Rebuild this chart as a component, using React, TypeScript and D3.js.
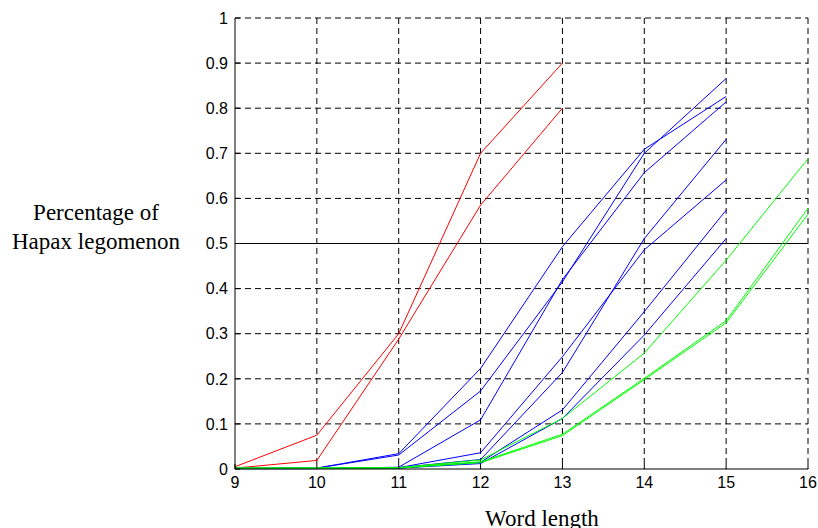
import * as d3 from 'd3';
import React from 'react';

// word length categories on the x axis
const wordLengths = [9, 10, 11, 12, 13, 14, 15, 16];
const yTicks = [0, 0.1, 0.2, 0.3, 0.4, 0.5, 0.6, 0.7, 0.8, 0.9, 1];
const yTickLabels = ['0', '0.1', '0.2', '0.3', '0.4', '0.5', '0.6', '0.7', '0.8', '0.9', '1'];

// red: lengths 9..13
const red1 = [0.005, 0.075, 0.3, 0.7, 0.9];
const red2 = [0.002, 0.019, 0.288, 0.585, 0.8];

// blue: lengths 9..15
const blue1 = [0.002, 0.002, 0.034, 0.223, 0.493, 0.709, 0.826];
const blue2 = [0.002, 0.002, 0.031, 0.173, 0.415, 0.7, 0.866];
const blue3 = [0.001, 0.001, 0.004, 0.109, 0.42, 0.657, 0.814];
const blue4 = [0.001, 0.001, 0.003, 0.036, 0.249, 0.486, 0.641];
const blue5 = [0.001, 0.001, 0.003, 0.021, 0.214, 0.511, 0.731];
const blue6 = [0.001, 0.001, 0.002, 0.015, 0.131, 0.349, 0.574];
const blue7 = [0.001, 0.001, 0.002, 0.012, 0.112, 0.297, 0.511];

// green: lengths 9..16
const green1 = [0.002, 0.002, 0.003, 0.02, 0.112, 0.257, 0.463, 0.688];
const green2 = [0.002, 0.002, 0.003, 0.016, 0.077, 0.201, 0.329, 0.578];
const green3 = [0.002, 0.002, 0.002, 0.014, 0.074, 0.198, 0.324, 0.565];

const series = [
    { color: '#ff0000', values: red1 },
    { color: '#ff0000', values: red2 },
    { color: '#0000ff', values: blue1 },
    { color: '#0000ff', values: blue2 },
    { color: '#0000ff', values: blue3 },
    { color: '#0000ff', values: blue4 },
    { color: '#0000ff', values: blue5 },
    { color: '#0000ff', values: blue6 },
    { color: '#0000ff', values: blue7 },
    { color: '#00ff00', values: green1 },
    { color: '#00ff00', values: green2 },
    { color: '#00ff00', values: green3 },
];

export default function App() {
    document.body.style.margin = '0';

    const margin = { top: 18, right: 10, bottom: 59, left: 235 };
    const width = 818 - margin.left - margin.right;
    const height = 528 - margin.top - margin.bottom;

    const x = d3.scaleLinear().domain([9, 16]).range([0, width]);
    const y = d3.scaleLinear().domain([0, 1]).range([height, 0]);

    const line = d3.line<number>()
        .x((d, i) => x(wordLengths[i]))
        .y(d => y(d));

    const tickFont = '"Liberation Sans", Arial, sans-serif';
    const labelFont = '"Liberation Serif", "Times New Roman", serif';

    return (
        <svg width={818} height={528} style={{ display: 'block' }}>
            <g transform={`translate(${margin.left}, ${margin.top})`}>
                {/* grid */}
                {wordLengths.slice(1).map(t => (
                    <line key={'gx' + t} x1={x(t)} x2={x(t)} y1={0} y2={height}
                        stroke="#000" strokeDasharray="6,4" strokeWidth={1} />
                ))}
                {yTicks.slice(1).map(t => (
                    <line key={'gy' + t} x1={0} x2={width} y1={y(t)} y2={y(t)}
                        stroke="#000" strokeDasharray="6,4" strokeWidth={1} />
                ))}
                {/* solid 0.5 line */}
                <line x1={0} x2={width} y1={y(0.5)} y2={y(0.5)} stroke="#000" strokeWidth={1} />

                {/* series */}
                {series.map((s, i) => (
                    <path key={i} d={line(s.values) || ''} fill="none" stroke={s.color} strokeWidth={1} />
                ))}

                {/* axes */}
                <line x1={0} x2={width} y1={height} y2={height} stroke="#000" strokeWidth={1} />
                <line x1={0} x2={0} y1={0} y2={height} stroke="#000" strokeWidth={1} />
                {wordLengths.map(t => (
                    <g key={'tx' + t} transform={`translate(${x(t)}, ${height})`}>
                        <line y1={0} y2={-5} stroke="#000" />
                        <text y={19} textAnchor="middle" fontFamily={tickFont} fontSize={16}>{t}</text>
                    </g>
                ))}
                {yTicks.map((t, i) => (
                    <g key={'ty' + t} transform={`translate(0, ${y(t)})`}>
                        <line x1={0} x2={5} stroke="#000" />
                        <text x={-7} dy="0.36em" textAnchor="end" fontFamily={tickFont} fontSize={16}>{yTickLabels[i]}</text>
                    </g>
                ))}
            </g>
            <text x={96} y={220} textAnchor="middle" fontFamily={labelFont} fontSize={23}>Percentage of</text>
            <text x={96} y={249} textAnchor="middle" fontFamily={labelFont} fontSize={23}>Hapax legomenon</text>
            <text x={542} y={526} textAnchor="middle" fontFamily={labelFont} fontSize={23}>Word length</text>
        </svg>
    );
}
